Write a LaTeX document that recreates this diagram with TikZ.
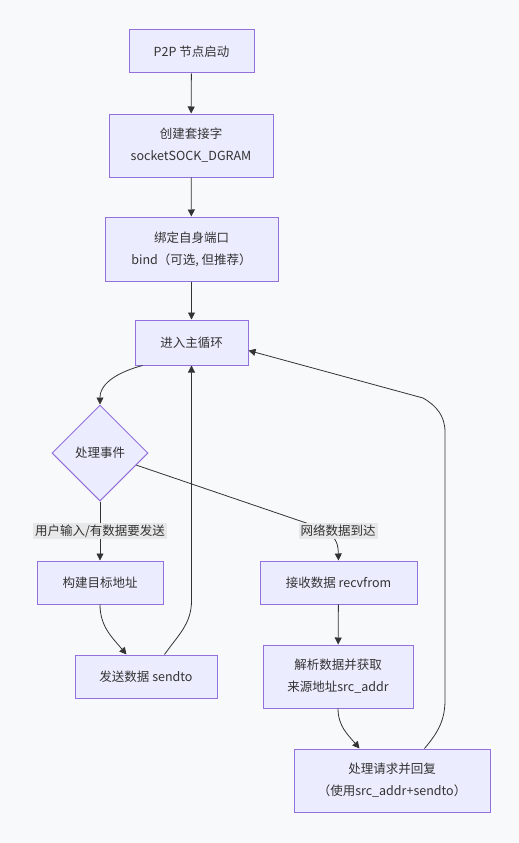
\documentclass[tikz,border=0pt]{standalone}
\usepackage{fontspec}
\setmainfont{Noto Sans CJK SC}
\usetikzlibrary{shapes.geometric,arrows.meta,calc}
\definecolor{bgc}{HTML}{F8F9FA}
\definecolor{nfill}{HTML}{ECECFF}
\definecolor{nstroke}{HTML}{9370DB}
\definecolor{ecol}{HTML}{333333}
\definecolor{lbg}{HTML}{E8E8E8}
\begin{document}
\begin{tikzpicture}[x=1pt,y=-1pt,
  font=\fontsize{12.5}{22}\selectfont,
  box/.style={draw=nstroke, fill=nfill, line width=1pt, text=ecol, align=center, inner sep=0pt},
  dia/.style={box, shape=diamond, aspect=1, minimum width=96pt, minimum height=96pt},
  lbl/.style={fill=lbg, text=ecol, inner sep=2pt},
  edge/.style={draw=ecol, line width=0.8pt, -{Triangle[length=7pt,width=7pt]}}]
\fill[bgc] (0,0) rectangle (519,843);
\useasboundingbox (0,0) rectangle (519,843);

\node[box, minimum width=125pt, minimum height=43pt] (start) at (191.5,51.5) {P2P 节点启动};
\node[box, minimum width=164pt, minimum height=63pt] (sock) at (191,145.5) {创建套接字\\socketSOCK\_DGRAM};
\node[box, minimum width=173pt, minimum height=64pt] (bind) at (191.5,249) {绑定自身端口\\bind（可选, 但推荐）};
\node[box, minimum width=113pt, minimum height=45pt] (loop) at (191.5,342.5) {进入主循环};
\node[dia] (ev) at (100,453) {处理事件};
\node[box, minimum width=126pt, minimum height=43pt] (build) at (100,582.5) {构建目标地址};
\node[box, minimum width=142pt, minimum height=43pt] (send) at (146,676.5) {发送数据 sendto};
\node[box, minimum width=157pt, minimum height=43pt] (recv) at (338.5,582.5) {接收数据 recvfrom};
\node[box, minimum width=150pt, minimum height=63pt] (parse) at (338,676.5) {解析数据并获取\\来源地址src\_addr};
\node[box, minimum width=196pt, minimum height=63pt] (reply) at (392,780.5) {处理请求并回复\\（使用src\_addr+sendto）};

\draw[edge] (start) -- (sock);
\draw[edge] (sock) -- (bind);
\draw[edge] (bind) -- (loop);
\draw[edge] ($(loop.south west)+(8,0)$) to[out=-165,in=90] (ev.north);
\draw[edge] (ev.south) -- (build.north);
\draw[edge] ($(ev.east)!0.25!(ev.south)$) -- (318,527) .. controls (338,536) and (338,545) .. (recv.north);
\draw[edge] (build.south) to[out=-90,in=130] ($(send.north west)+(52,0)$);
\draw[edge] ($(send.north west)+(90,0)$) to[out=55,in=-90] ($(loop.south)+(0,235)$) -- (loop.south);
\draw[edge] (recv) -- (parse);
\draw[edge] (parse.south) to[out=-90,in=130] ($(reply.north west)+(66,0)$);
\draw[edge] ($(reply.north west)+(131,0)$) to[out=50,in=-90] (445,700) -- (445,432) to[out=90,in=-30] (423,398) -- ($(loop.east)+(0,8)$);

\node[lbl] (l1) at (100,531) {用户输入/有数据要发送};
\node[lbl] (l2) at (338,531) {网络数据到达};
\end{tikzpicture}
\end{document}
